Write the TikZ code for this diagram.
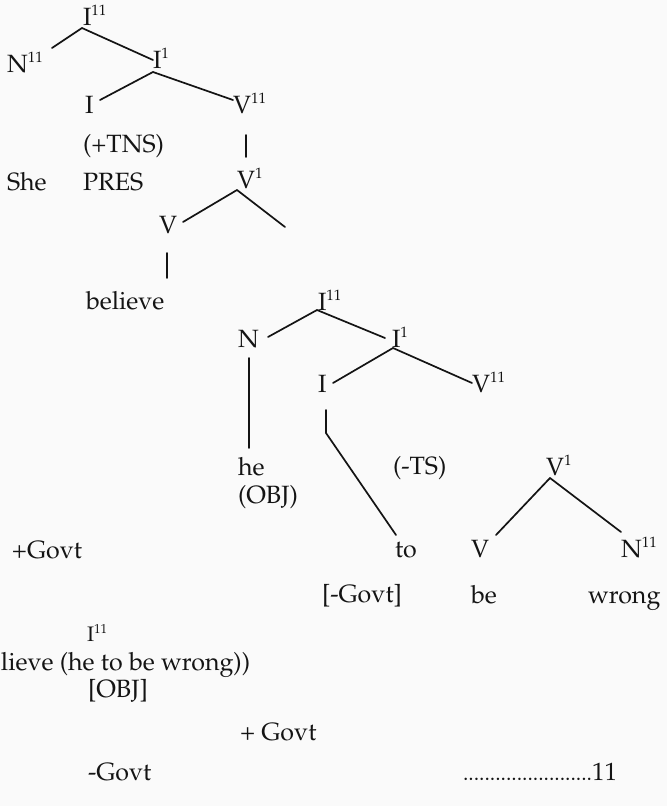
\documentclass[tikz,border=0pt]{standalone}
\usepackage[T1]{fontenc}
\usepackage{mathpazo}
\definecolor{ink}{HTML}{141414}
\definecolor{paper}{HTML}{FAFAFA}
\newcommand\spx[1]{\raisebox{10pt}{\fontsize{15}{15}\selectfont #1}}
\newcommand\spxs[1]{\raisebox{8pt}{\fontsize{13}{13}\selectfont #1}}
\tikzset{
  lbl/.style={anchor=base west, inner sep=0pt, outer sep=0pt, text=ink,
              font=\fontsize{25}{30}\selectfont},
  br/.style={draw=ink, line width=1.7pt, line cap=round, line join=round},
}
\begin{document}
\begin{tikzpicture}[x=1pt,y=-1pt]
\fill[paper] (0,0) rectangle (667,806);
\useasboundingbox (0,0) rectangle (667,806);

% ---------- upper tree ----------
\node[lbl] (I11a) at (83,25) {I\spx{11}};
\node[lbl] (N11a) at (7,72) {N\spx{11}};
\node[lbl] (I1a) at (153,68) {I\spx{1}};
\node[lbl] (Ia) at (85,113) {I};
\node[lbl] (V11a) at (233,113) {V\spx{11}};
\node[lbl] (tns) at (83,152) {(+TNS)};
\node[lbl] (she) at (7,190) {She};
\node[lbl] (pres) at (83,190) {PRES};
\node[lbl] (V1a) at (237,188) {V\spx{1}};
\node[lbl] (Va) at (159,233) {V};
\node[lbl] (believe) at (86,309) {believe};

\coordinate (a0) at (82,28);
\coordinate (aN) at (52,48);
\coordinate (aI1) at (153,60);
\coordinate (b0) at (153,72);
\coordinate (bI) at (100,100);
\coordinate (bV) at (233,100);
\coordinate (c0) at (246,135);
\coordinate (c1) at (246,157);
\coordinate (d0) at (237,190);
\coordinate (dV) at (183,222);
\coordinate (dR) at (285,227);
\coordinate (e0) at (167,253);
\coordinate (e1) at (167,278);

\draw[br] (a0) -- (aN);
\draw[br] (a0) -- (aI1);
\draw[br] (b0) -- (bI);
\draw[br] (b0) -- (bV);
\draw[br] (c0) -- (c1);
\draw[br] (d0) -- (dV);
\draw[br] (d0) -- (dR);
\draw[br] (e0) -- (e1);

% ---------- lower tree ----------
\node[lbl] (I11b) at (318,310) {I\spx{11}};
\node[lbl] (Nb) at (238,347) {N};
\node[lbl] (I1b) at (392,347) {I\spx{1}};
\node[lbl] (Ib) at (318,392) {I};
\node[lbl] (V11b) at (472,392) {V\spx{11}};
\node[lbl] (he) at (238,475) {he};
\node[lbl] (obj) at (238,503) {(OBJ)};
\node[lbl] (ts) at (393,474) {(-TS)};
\node[lbl] (V1b) at (546,475) {V\spx{1}};
\node[lbl] (pgovt) at (12,558) {+Govt};
\node[lbl] (to) at (395,557) {to};
\node[lbl] (Vb) at (471,557) {V};
\node[lbl] (N11b) at (621,557) {N\spx{11}};
\node[lbl] (mgovt) at (322,602) {[-Govt]};
\node[lbl] (be) at (471,603) {be};
\node[lbl] (wrong) at (588,603) {wrong};

\coordinate (f0) at (317,310);
\coordinate (fN) at (268,337);
\coordinate (fI1) at (385,338);
\coordinate (g0) at (393,348);
\coordinate (gI) at (333,383);
\coordinate (gV) at (472,383);
\coordinate (h0) at (249,358);
\coordinate (h1) at (249,448);
\coordinate (i0) at (326,410);
\coordinate (i1) at (326,433);
\coordinate (i2) at (396,535);
\coordinate (j0) at (550,478);
\coordinate (jV) at (496,535);
\coordinate (jN) at (621,532);

\draw[br] (f0) -- (fN);
\draw[br] (f0) -- (fI1);
\draw[br] (g0) -- (gI);
\draw[br] (g0) -- (gV);
\draw[br] (h0) -- (h1);
\draw[br] (i0) -- (i1) -- (i2);
\draw[br] (j0) -- (jV);
\draw[br] (j0) -- (jN);

% ---------- bottom lines ----------
\node[lbl, font=\fontsize{21}{25}\selectfont] (I11c) at (87,641) {I\spxs{11}};
\node[lbl] (lieve) at (1,670) {lieve (he to be wrong))};
\node[lbl] (OBJb) at (88,697) {[OBJ]};
\node[lbl] (pgovtb) at (240,740) {+ Govt};
\node[lbl] (mgovtb) at (88,780) {-Govt};
\node[lbl] (dots) at (463,780) {{\fontsize{21.5}{25}\selectfont ........................}11};
\end{tikzpicture}
\end{document}
